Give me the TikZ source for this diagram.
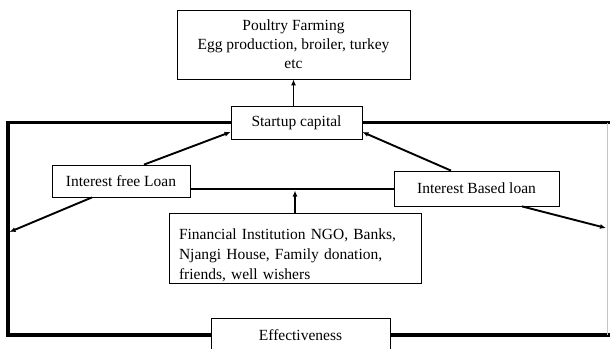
\documentclass[tikz,border=0pt]{standalone}
\usepackage{fontspec}
\setmainfont{Liberation Serif}
\usetikzlibrary{arrows.meta,calc,positioning}
\tikzset{
  box/.style={draw, line width=0.8pt, align=center, inner sep=0pt, font=\fontsize{15.5}{19}\selectfont},
  edge/.style={-{Latex[length=6pt,width=5pt]}, line width=1.9pt},
  frame/.style={line width=3.2pt}
}
\begin{document}
\begin{tikzpicture}[x=1pt, y=-1pt]
    \useasboundingbox (0,0) rectangle (610,348);
    \node [box, minimum width=233pt, minimum height=69pt] (poultry) at (293.5,44.5) {Poultry Farming\\Egg production, broiler, turkey\\etc};
    \node [box, minimum width=131pt, minimum height=33pt] (startup) at (296.5,122.5) {Startup capital};
    \node [box, minimum width=138pt, minimum height=32pt] (freeloan) at (121,181) {Interest free Loan};
    \node [box, minimum width=165pt, minimum height=35pt] (basedloan) at (476.5,188.5) {Interest Based loan};
    \node [box, align=left, text width=232pt, inner xsep=10pt, minimum height=70pt, font=\fontsize{15.5}{20}\selectfont] (finance) at (295,248) {\rule{0pt}{25pt}Financial Institution NGO, Banks,\\Njangi House, Family donation,\\friends, well wishers};
    \node [box, minimum width=179pt, minimum height=34pt] (effect) at (300.5,335) {Effectiveness};

    \coordinate (midpt) at (295,189);
    \coordinate (lhit) at (9.5,232);
    \coordinate (rhit) at (606,228);

    % outer loop
    \draw [frame] (startup.west) -- (8,122.5) -- (8,335) -- (effect.west);
    \draw [frame] (startup.east) -- (612,122.5);
    \draw [frame] (effect.east) -- (612,335);
    \draw [gray!45, line width=1pt] (607,122.5) -- (607,335);
    \draw [line width=2.6pt] (freeloan.east |- midpt) -- (basedloan.west |- midpt);

    \draw [edge] (poultry.south |- startup.north) -- (poultry.south);
    \draw [edge] ($(freeloan.north)+(23,0)$) -- ($(startup.west)+(0,9.5)$);
    \draw [edge] ($(basedloan.north)+(-25.5,0)$) -- ($(startup.east)+(0,9.5)$);
    \draw [edge] ($(freeloan.south)+(-29,0)$) -- (lhit);
    \draw [edge] ($(basedloan.south)+(45.5,0)$) -- (rhit);
    \draw [edge] (finance.north) -- ($(midpt)+(0,1.5)$);
\end{tikzpicture}
\end{document}
